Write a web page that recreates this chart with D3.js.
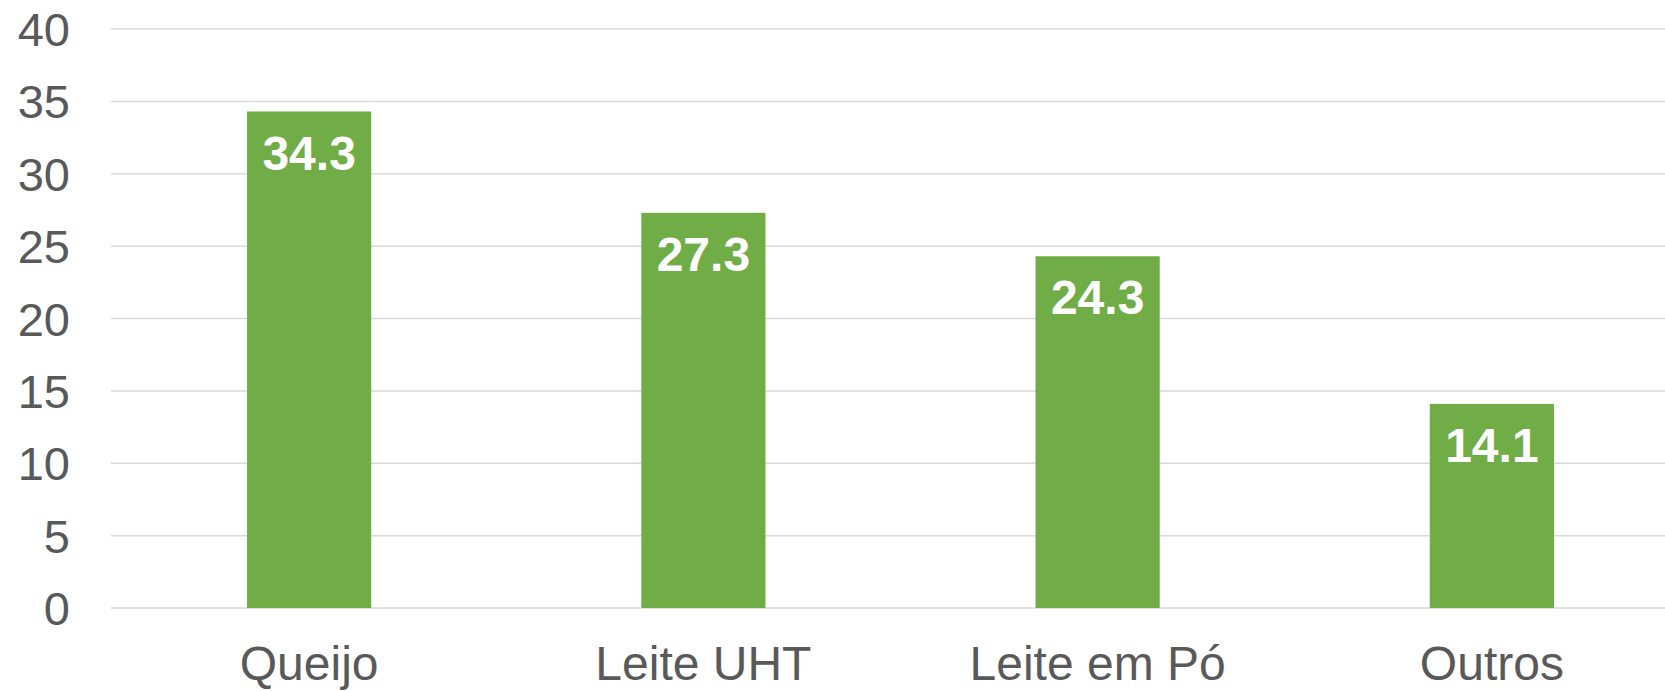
<!DOCTYPE html>
<html>
<head>
<meta charset="utf-8">
<script src="https://cdn.jsdelivr.net/npm/d3@7"></script>
<style>
html,body{margin:0;padding:0;background:#fff;}
svg{display:block;}
text{font-family:"Liberation Sans",Arial,sans-serif;}
</style>
</head>
<body>
<svg id="chart" width="1665" height="691"></svg>
<script>
const categories = ["Queijo", "Leite UHT", "Leite em Pó", "Outros"];
const values = [34.3, 27.3, 24.3, 14.1];
const yTicks = [0, 5, 10, 15, 20, 25, 30, 35, 40];

(function () {
const svg = d3.select("#chart");
const mLeft = 111, mRight = 1689, mTop = 29, mBottom = 608;

const x = d3.scaleBand().domain(categories).range([mLeft + 1, mRight])
  .paddingInner(0.685).paddingOuter(0.3425);
const y = d3.scaleLinear().domain([0, 40]).range([mBottom, mTop]);

// gridlines
svg.append("g").selectAll("line").data(yTicks).join("line")
  .attr("x1", mLeft).attr("x2", 1665)
  .attr("y1", d => y(d)).attr("y2", d => y(d))
  .attr("stroke", "#d9d9d9").attr("stroke-width", 1.5);

// y tick labels
svg.append("g").selectAll("text").data(yTicks).join("text")
  .attr("x", 70).attr("y", d => y(d) + 17)
  .attr("text-anchor", "end")
  .attr("font-size", 47).attr("fill", "#595959")
  .text(d => d);

// bars
svg.append("g").selectAll("rect").data(values).join("rect")
  .attr("x", (d, i) => x(categories[i]))
  .attr("width", x.bandwidth())
  .attr("y", d => y(d))
  .attr("height", d => y(0) - y(d))
  .attr("fill", "#70ad47");

// data labels
svg.append("g").selectAll("text").data(values).join("text")
  .attr("x", (d, i) => x(categories[i]) + x.bandwidth() / 2)
  .attr("y", d => y(d) + 58)
  .attr("text-anchor", "middle")
  .attr("font-size", 48).attr("font-weight", "bold").attr("fill", "#fff")
  .text(d => d.toFixed(1));

// category labels
svg.append("g").selectAll("text").data(categories).join("text")
  .attr("x", d => x(d) + x.bandwidth() / 2)
  .attr("y", 680)
  .attr("text-anchor", "middle")
  .attr("font-size", 48).attr("fill", "#595959")
  .text(d => d);
})();
</script>
</body>
</html>
